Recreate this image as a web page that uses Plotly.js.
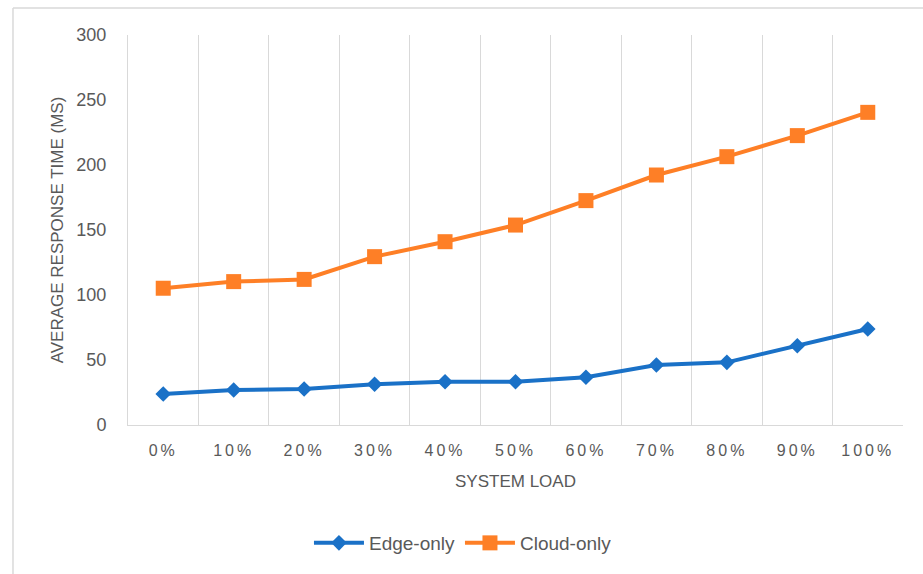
<!DOCTYPE html>
<html>
<head>
<meta charset="utf-8">
<script src="https://cdn.plot.ly/plotly-3.0.1.min.js"></script>
<style>
  html, body { margin: 0; padding: 0; background: #ffffff; }
  #chart { width: 923px; height: 574px; }
  .xtick text { letter-spacing: 3px; }
</style>
</head>
<body>
<div id="chart"></div>
<script>
const categories = ['0%', '10%', '20%', '30%', '40%', '50%', '60%', '70%', '80%', '90%', '100%'];
const edgeOnly = [23.8, 26.9, 27.7, 31.3, 33.3, 33.3, 36.7, 46.2, 48.2, 61, 73.8];
const cloudOnly = [105.2, 110.3, 112, 129.5, 141, 153.8, 172.6, 192.3, 206.4, 222.6, 240.5];
const yTicks = [0, 50, 100, 150, 200, 250, 300];

const textColor = '#595959';
const gridColor = '#d9d9d9';
const font = 'Liberation Sans, Arial, sans-serif';

const traces = [
  {
    x: categories, y: edgeOnly, name: 'Edge-only', type: 'scatter', mode: 'lines+markers',
    line: { color: '#1a71c7', width: 4 },
    marker: { symbol: 'diamond', size: 12, color: '#1a71c7' }
  },
  {
    x: categories, y: cloudOnly, name: 'Cloud-only', type: 'scatter', mode: 'lines+markers',
    line: { color: '#fe7f26', width: 4 },
    marker: { symbol: 'square', size: 15, color: '#fe7f26' }
  }
];

const layout = {
  width: 923, height: 574,
  margin: { l: 128, r: 20, t: 35, b: 149 },
  paper_bgcolor: '#ffffff', plot_bgcolor: '#ffffff',
  font: { family: font, color: textColor },
  showlegend: true,
  legend: {
    orientation: 'h', x: 0.2335, xanchor: 'left', y: -0.3026, yanchor: 'middle',
    itemwidth: 50, entrywidth: 86, entrywidthmode: 'pixels',
    font: { size: 19, color: textColor, family: font }, bgcolor: 'rgba(0,0,0,0)'
  },
  xaxis: {
    type: 'category', range: [-0.5, 10.5], tickson: 'boundaries',
    showgrid: true, gridcolor: gridColor, gridwidth: 1,
    showline: true, linecolor: gridColor, linewidth: 1,
    ticks: '', ticklabelstandoff: 11,
    tickfont: { size: 16, color: textColor, family: font },
    title: { text: 'SYSTEM LOAD', font: { size: 17, color: textColor, family: font }, standoff: 16 },
    fixedrange: true, zeroline: false
  },
  yaxis: {
    range: [0, 300], tickvals: yTicks, ticktext: yTicks.map(String),
    showgrid: false, zeroline: false, showline: true, linecolor: gridColor, linewidth: 1,
    ticks: 'outside', ticklen: 17, tickcolor: 'rgba(0,0,0,0)',
    tickfont: { size: 18, color: textColor, family: font },
    title: { text: 'AVERAGE RESPONSE TIME (MS)', font: { size: 17, color: textColor, family: font }, standoff: 8 },
    fixedrange: true
  },
  shapes: [
    { type: 'line', xref: 'paper', yref: 'paper', x0: -0.1484, x1: -0.1484, y0: 1.0692, y1: -0.42,
      line: { color: gridColor, width: 1.5 }, layer: 'below' },
    { type: 'line', xref: 'paper', yref: 'paper', x0: -0.1484, x1: 1.05, y0: 1.0692, y1: 1.0692,
      line: { color: gridColor, width: 1.5 }, layer: 'below' }
  ]
};

Plotly.newPlot('chart', traces, layout, { displayModeBar: false, staticPlot: true });
</script>
</body>
</html>
